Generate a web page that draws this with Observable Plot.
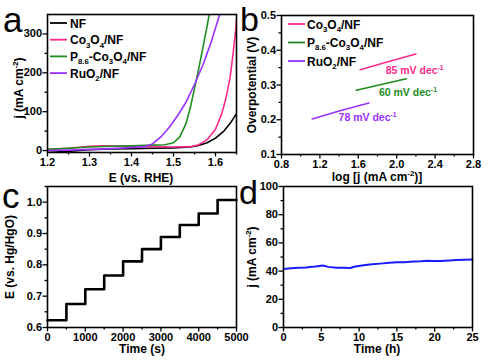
<!DOCTYPE html>
<html><head><meta charset="utf-8">
<script src="https://cdn.jsdelivr.net/npm/d3@7"></script>
<script src="https://cdn.jsdelivr.net/npm/@observablehq/plot@0.6"></script>
<style>
body{margin:0;background:#fff}
#fig{position:relative;width:493px;height:364px;overflow:hidden;background:#fff}
#fig > svg{position:absolute}
</style>
</head><body><div id="fig"></div>
<script>
const FONT = '"Liberation Sans", Arial, Helvetica, sans-serif';

// ---------- Panel a: LSV curves (E vs RHE, j mA cm-2) ----------
const lsvNames = ["NF", "Co_{3}O_{4}/NF", "P_{8.6}-Co_{3}O_{4}/NF", "RuO_{2}/NF"];
const lsvColors = ["#000000", "#ff2a8c", "#1e8c1e", "#9b30ff"];
const lsvNF = [[1.2,-5],[1.25,-2],[1.3,2],[1.35,4],[1.4,5],[1.45,6],[1.5,7],[1.54,9],[1.56,13],[1.58,20],[1.6,32],[1.62,50],[1.635,70],[1.65,95]];
const lsvCo = [[1.2,3],[1.25,6],[1.3,11],[1.33,12],[1.4,11],[1.45,10],[1.5,9],[1.54,10],[1.56,15],[1.58,28],[1.6,55],[1.615,95],[1.625,135],[1.635,190],[1.642,250],[1.648,310],[1.65,335]];
const lsvP = [[1.2,3],[1.25,6],[1.3,9],[1.35,11],[1.4,12],[1.45,14],[1.48,15],[1.5,20],[1.515,35],[1.53,70],[1.54,110],[1.55,160],[1.56,210],[1.57,265],[1.58,320],[1.585,350]];
const lsvRu = [[1.2,0],[1.25,1],[1.3,3],[1.35,5],[1.4,8],[1.43,10],[1.45,17],[1.47,35],[1.49,60],[1.51,90],[1.53,125],[1.55,170],[1.56,195],[1.57,220],[1.58,250],[1.59,280],[1.6,315],[1.61,350]];
const lsvData = [lsvNF, lsvCo, lsvP, lsvRu];

// ---------- Panel b: Tafel lines ----------
const tafelNames = ["Co_{3}O_{4}/NF", "P_{8.6}-Co_{3}O_{4}/NF", "RuO_{2}/NF"];
const tafelColors = ["#ff2a8c", "#1e8c1e", "#9b30ff"];
const tafelCo = [[1.62,0.344],[1.9,0.366],[2.2,0.389]];
const tafelP = [[1.58,0.285],[1.85,0.302],[2.1,0.318]];
const tafelRu = [[1.12,0.202],[1.4,0.225],[1.71,0.248]];
const tafelData = [tafelCo, tafelP, tafelRu];
const tafelSlopes = ["85 mV dec^{-1}", "60 mV dec^{-1}", "78 mV dec^{-1}"];
const tafelLabelX = [1.89, 1.82, 1.40];
const tafelLabelY = [0.341, 0.277, 0.206];

// ---------- Panel c: multistep chronopotentiometry ----------
const stepTimes = [0,500,1000,1500,2000,2500,3000,3500,4000,4500,5000];
const stepPotential = [0.623,0.675,0.722,0.766,0.811,0.850,0.889,0.927,0.964,1.007,1.007];

// ---------- Panel d: stability ----------
const stabHours = [0,1,2,3,3.75,4.5,5.2,5.9,7,8,8.8,9.5,10.6,11.7,12.8,14,15,16,17.2,18.2,19,20,20.7,22,22.9,24,25];
const stabJ = [41.5,42,42.3,42.6,43,43.5,44,43,42.4,42.3,42.2,43.3,44.2,44.8,45.3,45.9,46.2,46.3,46.8,47,47.3,47.1,47.2,47.6,47.8,48,48.2];

const fig = document.getElementById("fig");

function makePanel(o) {
  const p = Plot.plot({
    width: o.w, height: o.h,
    marginTop: o.mt, marginRight: o.mr, marginBottom: o.mb, marginLeft: o.ml,
    style: {background: "transparent", fontFamily: FONT, fontSize: "11px", fontWeight: "bold", color: "#000", overflow: "visible"},
    x: {domain: o.xDomain},
    y: {domain: o.yDomain},
    marks: [
      ...o.marks,
      Plot.axisX({ticks: o.xMinor, tickSize: 2.5, tickFormat: () => "", label: null, strokeWidth: 1.3}),
      Plot.axisX({ticks: o.xMajor, tickSize: 4.5, tickPadding: 1.5, tickFormat: o.xFmt, label: null, strokeWidth: 1.3}),
      Plot.axisY({ticks: o.yMinor, tickSize: 2.5, tickFormat: () => "", label: null, strokeWidth: 1.3}),
      Plot.axisY({ticks: o.yMajor, tickSize: 4.5, tickPadding: 1, tickFormat: o.yFmt, label: null, strokeWidth: 1.3}),
      Plot.frame({stroke: "#000", strokeWidth: 1.6})
    ]
  });
  p.style.left = o.x0 + "px";
  p.style.top = o.y0 + "px";
  fig.appendChild(p);
  return p;
}

const f1 = d3.format(".1f");
const fInt = d => String(d);

const pa = makePanel({
  x0: 0, y0: 0, w: 246, h: 185, mt: 14, mr: 10, mb: 33, ml: 47,
  xDomain: [1.2, 1.65], yDomain: [-5, 350],
  xMajor: [1.2,1.3,1.4,1.5,1.6], xMinor: [1.25,1.35,1.45,1.55,1.65], xFmt: f1,
  yMajor: [0,100,200,300], yMinor: [50,150,250], yFmt: fInt,
  marks: lsvData.map((d, i) => Plot.line(d, {x: v => v[0], y: v => v[1], stroke: lsvColors[i], strokeWidth: 1.6, clip: true}))
});

const pb = makePanel({
  x0: 246, y0: 0, w: 247, h: 185, mt: 15, mr: 20, mb: 31, ml: 35,
  xDomain: [0.8, 2.8], yDomain: [0.1, 0.5],
  xMajor: [0.8,1.2,1.6,2.0,2.4,2.8], xMinor: [1.0,1.4,1.8,2.2,2.6], xFmt: f1,
  yMajor: [0.1,0.2,0.3,0.4,0.5], yMinor: [0.15,0.25,0.35,0.45], yFmt: f1,
  marks: tafelData.map((d, i) => Plot.line(d, {x: v => v[0], y: v => v[1], stroke: tafelColors[i], strokeWidth: 1.6}))
});

const pc = makePanel({
  x0: 0, y0: 182, w: 246, h: 182, mt: 4, mr: 10, mb: 37, ml: 47,
  xDomain: [0, 5000], yDomain: [0.6, 1.05],
  xMajor: [0,1000,2000,3000,4000,5000], xMinor: [500,1500,2500,3500,4500], xFmt: fInt,
  yMajor: [0.6,0.7,0.8,0.9,1.0], yMinor: [0.65,0.75,0.85,0.95,1.05], yFmt: f1,
  marks: [Plot.line(stepTimes.map((t, i) => ({t, v: stepPotential[i]})), {x: "t", y: "v", curve: "step-after", stroke: "#000", strokeWidth: 2.6})]
});

const pd = makePanel({
  x0: 246, y0: 182, w: 247, h: 182, mt: 4, mr: 21, mb: 37, ml: 37,
  xDomain: [0, 25], yDomain: [0, 100],
  xMajor: [0,5,10,15,20,25], xMinor: [2.5,7.5,12.5,17.5,22.5], xFmt: fInt,
  yMajor: [0,20,40,60,80,100], yMinor: [10,30,50,70,90], yFmt: fInt,
  marks: [Plot.line(stabHours.map((t, i) => ({t, j: stabJ[i]})), {x: "t", y: "j", stroke: "#1a1aff", strokeWidth: 2})]
});

// ---------- overlay text (titles, legends, panel letters) ----------
const ov = d3.select(fig).append("svg").attr("width", 493).attr("height", 364)
  .style("left", "0px").style("top", "0px").style("overflow", "visible");

function rich(str, x, y, o) {
  const size = o.size;
  const t = ov.append("text").attr("x", x).attr("y", y).attr("font-size", size)
    .attr("font-weight", o.weight || "bold").attr("fill", o.color || "#000")
    .attr("text-anchor", o.anchor || "start").attr("font-family", FONT);
  if (o.rotate) t.attr("transform", `rotate(${o.rotate},${x},${y})`);
  const parts = str.split(/(_\{[^}]*\}|\^\{[^}]*\})/).filter(s => s.length);
  let shift = 0;
  for (const s of parts) {
    let txt = s, fs = size, target = 0;
    if (s.startsWith("_{")) { txt = s.slice(2, -1); fs = size * 0.65; target = size * 0.28; }
    else if (s.startsWith("^{")) { txt = s.slice(2, -1); fs = size * 0.65; target = -size * 0.4; }
    t.append("tspan").attr("font-size", fs).attr("dy", target - shift).text(txt);
    shift = target;
  }
  return t;
}

// panel letters
rich("a", 3, 32, {size: 35, weight: "normal"});
rich("b", 240, 31, {size: 34, weight: "normal"});
rich("c", 2, 208, {size: 35, weight: "normal"});
rich("d", 239, 204, {size: 34, weight: "normal"});

// axis titles
rich("E (vs. RHE)", 141, 182, {size: 12, anchor: "middle"});
rich("log [j (mA cm^{-2})]", 377, 181, {size: 12, anchor: "middle"});
rich("Time (s)", 142, 353, {size: 12, anchor: "middle"});
rich("Time (h)", 377, 353, {size: 12, anchor: "middle"});
rich("j (mA cm^{-2})", 23, 88, {size: 12, anchor: "middle", rotate: -90});
rich("Overpotential (V)", 256, 85, {size: 12, anchor: "middle", rotate: -90});
rich("E (vs. Hg/HgO)", 14, 257, {size: 12, anchor: "middle", rotate: -90});
rich("j (mA cm^{-2})", 256, 257, {size: 12, anchor: "middle", rotate: -90});

// legend a
lsvNames.forEach((n, i) => {
  const y = 23 + i * 16.7;
  ov.append("line").attr("x1", 50).attr("x2", 67).attr("y1", y).attr("y2", y).attr("stroke", lsvColors[i]).attr("stroke-width", 1.8);
  rich(n, 70, y + 4.5, {size: 12});
});
// legend b
tafelNames.forEach((n, i) => {
  const y = 24 + i * 18.5;
  ov.append("line").attr("x1", 288).attr("x2", 305).attr("y1", y).attr("y2", y).attr("stroke", tafelColors[i]).attr("stroke-width", 1.8);
  rich(n, 307, y + 4.5, {size: 12});
});
// Tafel slope annotations positioned with panel b scales
const sx = pb.scale("x"), sy = pb.scale("y");
tafelSlopes.forEach((s, i) => {
  rich(s, 246 + sx.apply(tafelLabelX[i]), sy.apply(tafelLabelY[i]) + 4, {size: 10.5, color: tafelColors[i]});
});
</script>
</body></html>
